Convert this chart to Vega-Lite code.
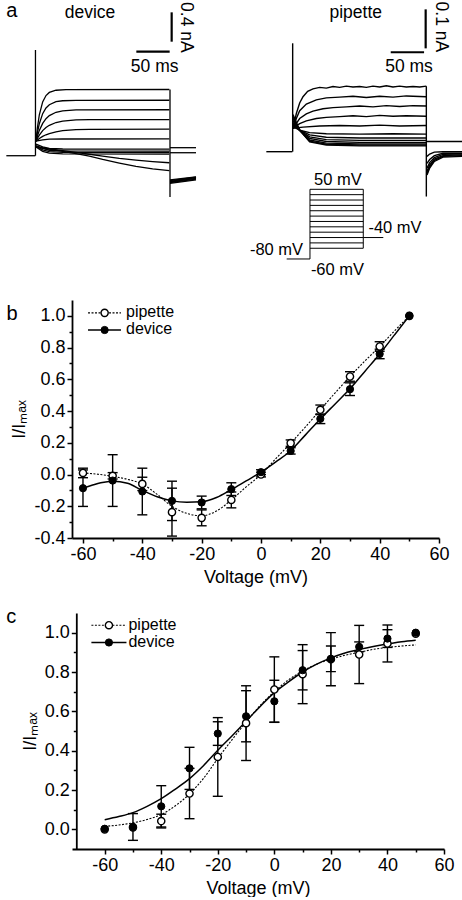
{
"$schema": "https://vega.github.io/schema/vega-lite/v6.json",
"background": "white",
"padding": {"left": 3, "top": 0, "right": 0, "bottom": 0},
"bounds": "flush",
"spacing": 75,
"config": {
  "view": {"stroke": null},
  "font": "Liberation Sans",
  "axis": {"domainColor": "black", "domainWidth": 1.8, "tickColor": "black", "tickWidth": 1.5, "labelFont": "Liberation Sans", "labelFontSize": 18, "labelColor": "black", "titleFont": "Liberation Sans", "titleFontSize": 18, "titleFontWeight": "normal", "titleColor": "black", "grid": false, "labelFlush": false, "labelOverlap": false, "labelBound": false},
  "text": {"font": "Liberation Sans", "color": "black"}
},
"datasets": {
  "devTr": [
    {"tr":"h","t":-44.5,"i":0},{"tr":"h","t":-1,"i":0},
    {"tr":"d50","t":0,"i":0.2},{"tr":"d50","t":2,"i":0.376},{"tr":"d50","t":5,"i":0.561},{"tr":"d50","t":10,"i":0.737},{"tr":"d50","t":15,"i":0.824},{"tr":"d50","t":20,"i":0.867},{"tr":"d50","t":30,"i":0.897},{"tr":"d50","t":45,"i":0.905},{"tr":"d50","t":200,"i":0.907},
    {"tr":"d40","t":0,"i":0.2},{"tr":"d40","t":2,"i":0.312},{"tr":"d40","t":5,"i":0.439},{"tr":"d40","t":10,"i":0.576},{"tr":"d40","t":15,"i":0.654},{"tr":"d40","t":20,"i":0.699},{"tr":"d40","t":30,"i":0.74},{"tr":"d40","t":40,"i":0.753},{"tr":"d40","t":60,"i":0.759},{"tr":"d40","t":200,"i":0.76},
    {"tr":"d30","t":0,"i":0.2},{"tr":"d30","t":2,"i":0.266},{"tr":"d30","t":5,"i":0.347},{"tr":"d30","t":10,"i":0.443},{"tr":"d30","t":15,"i":0.507},{"tr":"d30","t":20,"i":0.549},{"tr":"d30","t":30,"i":0.595},{"tr":"d30","t":40,"i":0.615},{"tr":"d30","t":60,"i":0.627},{"tr":"d30","t":200,"i":0.63},
    {"tr":"d20","t":0,"i":0.2},{"tr":"d20","t":2,"i":0.237},{"tr":"d20","t":5,"i":0.283},{"tr":"d20","t":10,"i":0.344},{"tr":"d20","t":15,"i":0.386},{"tr":"d20","t":20,"i":0.417},{"tr":"d20","t":30,"i":0.455},{"tr":"d20","t":40,"i":0.475},{"tr":"d20","t":60,"i":0.49},{"tr":"d20","t":80,"i":0.494},{"tr":"d20","t":200,"i":0.495},
    {"tr":"d10","t":0,"i":0.2},{"tr":"d10","t":5,"i":0.236},{"tr":"d10","t":10,"i":0.265},{"tr":"d10","t":15,"i":0.287},{"tr":"d10","t":20,"i":0.304},{"tr":"d10","t":30,"i":0.328},{"tr":"d10","t":40,"i":0.343},{"tr":"d10","t":60,"i":0.357},{"tr":"d10","t":80,"i":0.362},{"tr":"d10","t":200,"i":0.365},
    {"tr":"d0","t":0,"i":0.2},{"tr":"d0","t":10,"i":0.218},{"tr":"d0","t":20,"i":0.226},{"tr":"d0","t":40,"i":0.229},{"tr":"d0","t":200,"i":0.23},
    {"tr":"dm10","t":0,"i":0.16},{"tr":"dm10","t":10,"i":0.12},{"tr":"dm10","t":20,"i":0.1},{"tr":"dm10","t":40,"i":0.092},{"tr":"dm10","t":200,"i":0.09},
    {"tr":"dm20","t":0,"i":0.14},{"tr":"dm20","t":10,"i":0.1},{"tr":"dm20","t":20,"i":0.075},{"tr":"dm20","t":40,"i":0.066},{"tr":"dm20","t":200,"i":0.064},
    {"tr":"dm30","t":0,"i":0.13},{"tr":"dm30","t":10,"i":0.08},{"tr":"dm30","t":20,"i":0.055},{"tr":"dm30","t":40,"i":0.046},{"tr":"dm30","t":200,"i":0.044},
    {"tr":"dm40","t":0,"i":0.12},{"tr":"dm40","t":10,"i":0.06},{"tr":"dm40","t":20,"i":0.035},{"tr":"dm40","t":40,"i":0.025},{"tr":"dm40","t":200,"i":0.023},
    {"tr":"dm50","t":0,"i":0.12},{"tr":"dm50","t":20,"i":0.095},{"tr":"dm50","t":40,"i":0.07},{"tr":"dm50","t":60,"i":0.045},{"tr":"dm50","t":80,"i":0.02},{"tr":"dm50","t":100,"i":-0.005},{"tr":"dm50","t":125,"i":-0.036},{"tr":"dm50","t":150,"i":-0.06},{"tr":"dm50","t":175,"i":-0.08},{"tr":"dm50","t":200,"i":-0.096},
    {"tr":"dm60","t":0,"i":0.12},{"tr":"dm60","t":20,"i":0.09},{"tr":"dm60","t":40,"i":0.06},{"tr":"dm60","t":60,"i":0.03},{"tr":"dm60","t":80,"i":-0.005},{"tr":"dm60","t":100,"i":-0.05},{"tr":"dm60","t":125,"i":-0.1},{"tr":"dm60","t":150,"i":-0.145},{"tr":"dm60","t":175,"i":-0.18},{"tr":"dm60","t":200,"i":-0.205},
    {"tr":"T1","t":201,"i":0.11},{"tr":"T1","t":240,"i":0.11},
    {"tr":"T2","t":201,"i":0.041},{"tr":"T2","t":240,"i":0.041},
    {"tr":"T3","t":201,"i":-0.38},{"tr":"T3","t":240,"i":-0.33},
    {"tr":"T4","t":201,"i":-0.37},{"tr":"T4","t":240,"i":-0.32},
    {"tr":"T5","t":201,"i":-0.36},{"tr":"T5","t":240,"i":-0.31},
    {"tr":"T6","t":201,"i":-0.35},{"tr":"T6","t":240,"i":-0.3},
    {"tr":"T7","t":201,"i":-0.34},{"tr":"T7","t":240,"i":-0.295},
    {"tr":"T8","t":201,"i":-0.33},{"tr":"T8","t":240,"i":-0.29}
  ],
  "pipTr": [
    {"tr":"h","t":-40,"i":0},{"tr":"h","t":-1,"i":0},
    {"tr":"p1","t":0,"i":0.06},{"tr":"p1","t":5,"i":0.098},{"tr":"p1","t":10,"i":0.125},{"tr":"p1","t":15,"i":0.141},{"tr":"p1","t":22,"i":0.155},{"tr":"p1","t":30,"i":0.161},{"tr":"p1","t":40,"i":0.165},{"tr":"p1","t":50,"i":0.163},{"tr":"p1","t":60,"i":0.167},{"tr":"p1","t":70,"i":0.165},{"tr":"p1","t":80,"i":0.168},{"tr":"p1","t":90,"i":0.166},{"tr":"p1","t":100,"i":0.167},{"tr":"p1","t":110,"i":0.165},{"tr":"p1","t":120,"i":0.168},{"tr":"p1","t":130,"i":0.166},{"tr":"p1","t":140,"i":0.169},{"tr":"p1","t":150,"i":0.166},{"tr":"p1","t":160,"i":0.168},{"tr":"p1","t":170,"i":0.166},{"tr":"p1","t":180,"i":0.167},{"tr":"p1","t":190,"i":0.166},{"tr":"p1","t":200,"i":0.168},
    {"tr":"p2","t":0,"i":0.06},{"tr":"p2","t":5,"i":0.085},{"tr":"p2","t":10,"i":0.105},{"tr":"p2","t":20,"i":0.122},{"tr":"p2","t":35,"i":0.133},{"tr":"p2","t":50,"i":0.138},{"tr":"p2","t":70,"i":0.14},{"tr":"p2","t":90,"i":0.142},{"tr":"p2","t":110,"i":0.139},{"tr":"p2","t":130,"i":0.142},{"tr":"p2","t":150,"i":0.14},{"tr":"p2","t":170,"i":0.143},{"tr":"p2","t":200,"i":0.141},
    {"tr":"p3","t":0,"i":0.06},{"tr":"p3","t":10,"i":0.085},{"tr":"p3","t":20,"i":0.097},{"tr":"p3","t":30,"i":0.104},{"tr":"p3","t":45,"i":0.11},{"tr":"p3","t":60,"i":0.113},{"tr":"p3","t":80,"i":0.115},{"tr":"p3","t":100,"i":0.117},{"tr":"p3","t":120,"i":0.115},{"tr":"p3","t":140,"i":0.118},{"tr":"p3","t":160,"i":0.116},{"tr":"p3","t":180,"i":0.118},{"tr":"p3","t":200,"i":0.117},
    {"tr":"p4","t":0,"i":0.06},{"tr":"p4","t":10,"i":0.072},{"tr":"p4","t":20,"i":0.079},{"tr":"p4","t":35,"i":0.085},{"tr":"p4","t":50,"i":0.088},{"tr":"p4","t":70,"i":0.09},{"tr":"p4","t":90,"i":0.092},{"tr":"p4","t":110,"i":0.09},{"tr":"p4","t":130,"i":0.093},{"tr":"p4","t":150,"i":0.091},{"tr":"p4","t":170,"i":0.092},{"tr":"p4","t":200,"i":0.091},
    {"tr":"p5","t":0,"i":0.06},{"tr":"p5","t":15,"i":0.063},{"tr":"p5","t":40,"i":0.066},{"tr":"p5","t":70,"i":0.067},{"tr":"p5","t":100,"i":0.066},{"tr":"p5","t":130,"i":0.068},{"tr":"p5","t":160,"i":0.066},{"tr":"p5","t":200,"i":0.067},
    {"tr":"p6","t":0,"i":0.065},{"tr":"p6","t":10,"i":0.055},{"tr":"p6","t":25,"i":0.049},{"tr":"p6","t":50,"i":0.046},{"tr":"p6","t":100,"i":0.045},{"tr":"p6","t":150,"i":0.046},{"tr":"p6","t":200,"i":0.045},
    {"tr":"p7","t":0,"i":0.07},{"tr":"p7","t":10,"i":0.055},{"tr":"p7","t":25,"i":0.043},{"tr":"p7","t":50,"i":0.037},{"tr":"p7","t":100,"i":0.035},{"tr":"p7","t":200,"i":0.035},
    {"tr":"p8","t":0,"i":0.075},{"tr":"p8","t":10,"i":0.055},{"tr":"p8","t":25,"i":0.038},{"tr":"p8","t":50,"i":0.031},{"tr":"p8","t":100,"i":0.029},{"tr":"p8","t":200,"i":0.029},
    {"tr":"p9","t":0,"i":0.08},{"tr":"p9","t":10,"i":0.055},{"tr":"p9","t":25,"i":0.034},{"tr":"p9","t":50,"i":0.026},{"tr":"p9","t":100,"i":0.024},{"tr":"p9","t":200,"i":0.024},
    {"tr":"p10","t":0,"i":0.085},{"tr":"p10","t":10,"i":0.055},{"tr":"p10","t":25,"i":0.03},{"tr":"p10","t":50,"i":0.022},{"tr":"p10","t":100,"i":0.02},{"tr":"p10","t":200,"i":0.02},
    {"tr":"p11","t":0,"i":0.09},{"tr":"p11","t":10,"i":0.055},{"tr":"p11","t":25,"i":0.027},{"tr":"p11","t":50,"i":0.019},{"tr":"p11","t":100,"i":0.017},{"tr":"p11","t":200,"i":0.017},
    {"tr":"p12","t":0,"i":0.095},{"tr":"p12","t":10,"i":0.055},{"tr":"p12","t":25,"i":0.025},{"tr":"p12","t":50,"i":0.017},{"tr":"p12","t":100,"i":0.015},{"tr":"p12","t":200,"i":0.015},
    {"tr":"q1","t":201,"i":0.026},{"tr":"q1","t":255,"i":0.026},
    {"tr":"q2","t":201,"i":-0.012},{"tr":"q2","t":205,"i":-0.006},{"tr":"q2","t":212,"i":-0.001},{"tr":"q2","t":225,"i":0.0},{"tr":"q2","t":255,"i":0.0},
    {"tr":"q3","t":201,"i":-0.03},{"tr":"q3","t":205,"i":-0.02},{"tr":"q3","t":212,"i":-0.01},{"tr":"q3","t":225,"i":-0.004},{"tr":"q3","t":255,"i":-0.004},
    {"tr":"q4","t":201,"i":-0.042},{"tr":"q4","t":205,"i":-0.028},{"tr":"q4","t":212,"i":-0.015},{"tr":"q4","t":225,"i":-0.007},{"tr":"q4","t":255,"i":-0.006},
    {"tr":"q5","t":201,"i":-0.05},{"tr":"q5","t":205,"i":-0.034},{"tr":"q5","t":212,"i":-0.019},{"tr":"q5","t":225,"i":-0.01},{"tr":"q5","t":255,"i":-0.008},
    {"tr":"q6","t":201,"i":-0.056},{"tr":"q6","t":205,"i":-0.038},{"tr":"q6","t":212,"i":-0.022},{"tr":"q6","t":225,"i":-0.012},{"tr":"q6","t":255,"i":-0.01},
    {"tr":"q7","t":201,"i":-0.06},{"tr":"q7","t":205,"i":-0.042},{"tr":"q7","t":212,"i":-0.025},{"tr":"q7","t":225,"i":-0.014},{"tr":"q7","t":255,"i":-0.012}
  ],
  "bErr": [
    {"x":-60,"y":-0.02,"y2":0.04},{"x":-50,"y":-0.028,"y2":0.012},{"x":-40,"y":-0.101,"y2":-0.017},{"x":-30,"y":-0.388,"y2":-0.086},{"x":-20,"y":-0.323,"y2":-0.223},{"x":-10,"y":-0.21,"y2":-0.11},{"x":0,"y":-0.015,"y2":0.015},{"x":10,"y":0.178,"y2":0.218},{"x":20,"y":0.378,"y2":0.438},{"x":30,"y":0.588,"y2":0.648},{"x":40,"y":0.777,"y2":0.837},
    {"x":-60,"y":-0.201,"y2":0.029},{"x":-50,"y":-0.201,"y2":0.125},{"x":-40,"y":-0.254,"y2":0.04},{"x":-30,"y":-0.29,"y2":-0.042},{"x":-20,"y":-0.216,"y2":-0.136},{"x":-10,"y":-0.132,"y2":-0.052},{"x":0,"y":0.0,"y2":0.03},{"x":10,"y":0.129,"y2":0.169},{"x":20,"y":0.321,"y2":0.381},{"x":30,"y":0.498,"y2":0.578},{"x":40,"y":0.73,"y2":0.79}
  ],
  "bPip": [{"x":-60,"y":0.01},{"x":-50,"y":-0.008},{"x":-40,"y":-0.059},{"x":-30,"y":-0.237},{"x":-20,"y":-0.273},{"x":-10,"y":-0.16},{"x":0,"y":0.0},{"x":10,"y":0.198},{"x":20,"y":0.408},{"x":30,"y":0.618},{"x":40,"y":0.807},{"x":50,"y":1.0}],
  "bDev": [{"x":-60,"y":-0.086},{"x":-50,"y":-0.038},{"x":-40,"y":-0.107},{"x":-30,"y":-0.166},{"x":-20,"y":-0.176},{"x":-10,"y":-0.092},{"x":0,"y":0.015},{"x":10,"y":0.149},{"x":20,"y":0.351},{"x":30,"y":0.538},{"x":40,"y":0.76},{"x":50,"y":1.0}],
  "bCurveP": [{"x":-60,"y":0.01},{"x":-55,"y":0.002},{"x":-50,"y":-0.012},{"x":-45,"y":-0.03},{"x":-40,"y":-0.06},{"x":-35,"y":-0.125},{"x":-30,"y":-0.2},{"x":-25,"y":-0.245},{"x":-20,"y":-0.26},{"x":-15,"y":-0.23},{"x":-10,"y":-0.16},{"x":-5,"y":-0.078},{"x":0,"y":0.0},{"x":5,"y":0.1},{"x":10,"y":0.198},{"x":15,"y":0.3},{"x":20,"y":0.408},{"x":25,"y":0.515},{"x":30,"y":0.618},{"x":35,"y":0.715},{"x":40,"y":0.807},{"x":45,"y":0.905},{"x":50,"y":1.0}],
  "bCurveD": [{"x":-60,"y":-0.086},{"x":-57,"y":-0.068},{"x":-54,"y":-0.052},{"x":-50,"y":-0.042},{"x":-45,"y":-0.055},{"x":-40,"y":-0.1},{"x":-35,"y":-0.14},{"x":-30,"y":-0.166},{"x":-25,"y":-0.175},{"x":-20,"y":-0.172},{"x":-15,"y":-0.145},{"x":-10,"y":-0.095},{"x":-5,"y":-0.04},{"x":0,"y":0.015},{"x":5,"y":0.08},{"x":10,"y":0.15},{"x":15,"y":0.25},{"x":20,"y":0.35},{"x":25,"y":0.445},{"x":30,"y":0.54},{"x":35,"y":0.65},{"x":40,"y":0.76},{"x":45,"y":0.88},{"x":50,"y":1.0}],
  "cErr": [
    {"x":-40,"y":0.007,"y2":0.077},{"x":-30,"y":0.054,"y2":0.31},{"x":-20,"y":0.168,"y2":0.568},{"x":-10,"y":0.35,"y2":0.73},{"x":0,"y":0.545,"y2":0.877},{"x":10,"y":0.639,"y2":0.939},{"x":20,"y":0.73,"y2":1.0},{"x":30,"y":0.741,"y2":1.037},{"x":40,"y":0.851,"y2":1.039},
    {"x":-50,"y":-0.056,"y2":0.08},{"x":-40,"y":0.012,"y2":0.222},{"x":-30,"y":0.203,"y2":0.417},{"x":-20,"y":0.427,"y2":0.547},{"x":-10,"y":0.445,"y2":0.705},{"x":0,"y":0.544,"y2":0.758},{"x":10,"y":0.709,"y2":0.909},{"x":20,"y":0.802,"y2":0.932},{"x":30,"y":0.903,"y2":0.953},{"x":40,"y":0.925,"y2":1.015}
  ],
  "cPip": [{"x":-60,"y":0.0},{"x":-50,"y":0.01},{"x":-40,"y":0.042},{"x":-30,"y":0.182},{"x":-20,"y":0.368},{"x":-10,"y":0.54},{"x":0,"y":0.711},{"x":10,"y":0.789},{"x":20,"y":0.865},{"x":30,"y":0.889},{"x":40,"y":0.945},{"x":50,"y":0.995}],
  "cDev": [{"x":-60,"y":0.003},{"x":-50,"y":0.012},{"x":-40,"y":0.117},{"x":-30,"y":0.31},{"x":-20,"y":0.487},{"x":-10,"y":0.575},{"x":0,"y":0.651},{"x":10,"y":0.809},{"x":20,"y":0.867},{"x":30,"y":0.928},{"x":40,"y":0.97},{"x":50,"y":1.0}],
  "cCurveP": [{"x":-60,"y":0.015},{"x":-55,"y":0.022},{"x":-50,"y":0.033},{"x":-45,"y":0.05},{"x":-40,"y":0.075},{"x":-35,"y":0.12},{"x":-30,"y":0.18},{"x":-25,"y":0.26},{"x":-20,"y":0.36},{"x":-15,"y":0.455},{"x":-10,"y":0.545},{"x":-5,"y":0.63},{"x":0,"y":0.7},{"x":5,"y":0.76},{"x":10,"y":0.805},{"x":15,"y":0.84},{"x":20,"y":0.865},{"x":25,"y":0.885},{"x":30,"y":0.9},{"x":35,"y":0.915},{"x":40,"y":0.925},{"x":45,"y":0.932},{"x":50,"y":0.938}],
  "cCurveD": [{"x":-60,"y":0.049},{"x":-55,"y":0.065},{"x":-50,"y":0.085},{"x":-45,"y":0.117},{"x":-40,"y":0.156},{"x":-35,"y":0.205},{"x":-30,"y":0.258},{"x":-25,"y":0.325},{"x":-20,"y":0.402},{"x":-15,"y":0.475},{"x":-10,"y":0.55},{"x":-5,"y":0.625},{"x":0,"y":0.695},{"x":5,"y":0.75},{"x":10,"y":0.8},{"x":15,"y":0.84},{"x":20,"y":0.872},{"x":25,"y":0.897},{"x":30,"y":0.915},{"x":35,"y":0.93},{"x":40,"y":0.942},{"x":45,"y":0.954},{"x":50,"y":0.962}]
},
"vconcat": [
{
  "width": 367, "height": 225,
  "resolve": {"scale": {"x": "independent", "y": "independent"}},
  "layer": [
    {
      "encoding": {
        "x": {"field": "t", "type": "quantitative", "scale": {"domain": [54, 604.5], "nice": false, "zero": false}, "axis": null},
        "y": {"field": "i", "type": "quantitative", "scale": {"domain": [-0.949, 2.133], "nice": false, "zero": false}, "axis": null}
      },
      "layer": [
        {"data": {"name": "devTr"}, "mark": {"type": "line", "color": "black", "strokeWidth": 1.3}, "encoding": {"detail": {"field": "tr"}}},
        {"data": {"values": [{"t": -0.8, "i": 0, "i2": 1.448}, {"t": 201, "i": -0.566, "i2": 0.907}]}, "mark": {"type": "rule", "color": "black", "strokeWidth": 1.3}, "encoding": {"y2": {"field": "i2"}}},
        {"data": {"values": [{"t": 203.5, "i": 1.562, "i2": 1.964}]}, "mark": {"type": "rule", "color": "black", "strokeWidth": 2.2}, "encoding": {"y2": {"field": "i2"}}},
        {"data": {"values": [{"t": 150.5, "t2": 200.5, "i": 1.425}]}, "mark": {"type": "rule", "color": "black", "strokeWidth": 2.2}, "encoding": {"x2": {"field": "t2"}}},
        {"data": {"values": [{"t": -44.6, "i": 1.904, "txt": "a"}]}, "mark": {"type": "text", "fontSize": 20, "align": "left", "baseline": "alphabetic"}, "encoding": {"text": {"field": "txt"}}},
        {"data": {"values": [{"t": 81, "i": 1.882, "txt": "device"}, {"t": 178, "i": 1.151, "txt": "50 ms"}]}, "mark": {"type": "text", "fontSize": 17.5, "align": "center", "baseline": "alphabetic"}, "encoding": {"text": {"field": "txt"}}},
        {"data": {"values": [{"t": 225.5, "i": 1.758, "txt": "0.4 nA"}]}, "mark": {"type": "text", "fontSize": 17.5, "angle": 90, "align": "center", "baseline": "middle"}, "encoding": {"text": {"field": "txt"}}}
      ]
    },
    {
      "encoding": {
        "x": {"field": "t", "type": "quantitative", "scale": {"domain": [-331.5, 219], "nice": false, "zero": false}, "axis": null},
        "y": {"field": "i", "type": "quantitative", "scale": {"domain": [-0.188, 0.389], "nice": false, "zero": false}, "axis": null}
      },
      "layer": [
        {"data": {"name": "pipTr"}, "mark": {"type": "line", "color": "black", "strokeWidth": 1.4}, "encoding": {"detail": {"field": "tr"}}},
        {"data": {"values": [{"t": -0.5, "i": 0, "i2": 0.278}, {"t": 200, "i": -0.115, "i2": 0.168}]}, "mark": {"type": "rule", "color": "black", "strokeWidth": 1.4}, "encoding": {"y2": {"field": "i2"}}},
        {"data": {"values": [{"t": 199, "i": 0.265, "i2": 0.365}]}, "mark": {"type": "rule", "color": "black", "strokeWidth": 2.2}, "encoding": {"y2": {"field": "i2"}}},
        {"data": {"values": [{"t": 146.6, "t2": 196.6, "i": 0.255}]}, "mark": {"type": "rule", "color": "black", "strokeWidth": 2.2}, "encoding": {"x2": {"field": "t2"}}},
        {"data": {"values": [{"t": 94.1, "i": 0.342, "txt": "pipette"}, {"t": 174, "i": 0.205, "txt": "50 ms"}]}, "mark": {"type": "text", "fontSize": 17.5, "align": "center", "baseline": "alphabetic"}, "encoding": {"text": {"field": "txt"}}},
        {"data": {"values": [{"t": 222.5, "i": 0.32, "txt": "0.1 nA"}]}, "mark": {"type": "text", "fontSize": 17.5, "angle": 90, "align": "center", "baseline": "middle"}, "encoding": {"text": {"field": "txt"}}}
      ]
    },
    {
      "encoding": {
        "x": {"field": "t", "type": "quantitative", "scale": {"domain": [-446.5, 242.1], "nice": false, "zero": false}, "axis": null},
        "y": {"field": "i", "type": "quantitative", "scale": {"domain": [-16.6, 403.2], "nice": false, "zero": false}, "axis": null}
      },
      "layer": [
        {"data": {"values": [
          {"t":0,"t2":100,"i":-60},{"t":0,"t2":100,"i":-50},{"t":0,"t2":100,"i":-40},{"t":0,"t2":100,"i":-30},{"t":0,"t2":100,"i":-20},{"t":0,"t2":100,"i":-10},{"t":0,"t2":100,"i":0},{"t":0,"t2":100,"i":10},{"t":0,"t2":100,"i":20},{"t":0,"t2":100,"i":30},{"t":0,"t2":100,"i":40},{"t":0,"t2":100,"i":50},
          {"t":-43.7,"t2":0,"i":-80},{"t":100,"t2":137.6,"i":-40}]},
         "mark": {"type": "rule", "color": "black", "strokeWidth": 1}, "encoding": {"x2": {"field": "t2"}}},
        {"data": {"values": [{"t": 0, "i": -80, "i2": 50}, {"t": 100, "i": -60, "i2": 50}]}, "mark": {"type": "rule", "color": "black", "strokeWidth": 1}, "encoding": {"y2": {"field": "i2"}}},
        {"data": {"values": [{"t": 52.5, "i": 58.1, "txt": "50 mV"}, {"t": -62.8, "i": -72.5, "txt": "-80 mV"}, {"t": 51.6, "i": -109.9, "txt": "-60 mV"}, {"t": 159.5, "i": -31.5, "txt": "-40 mV"}]}, "mark": {"type": "text", "fontSize": 16.5, "align": "center", "baseline": "alphabetic"}, "encoding": {"text": {"field": "txt"}}}
      ]
    }
  ]
},
{
  "width": 367, "height": 238,
  "encoding": {
    "x": {"field": "x", "type": "quantitative", "scale": {"domain": [-63.7, 60], "nice": false, "zero": false},
      "axis": {"title": "Voltage (mV)", "values": [-60,-50,-40,-30,-20,-10,0,10,20,30,40,50,60], "labelExpr": "datum.value % 20 === 0 ? (datum.value < 0 ? '-' + abs(datum.value) : '' + datum.value) : ''", "tickSize": {"condition": {"test": "datum.value % 20 === 0", "value": 5}, "value": 3}, "labelPadding": 2, "titlePadding": 5}},
    "y": {"field": "y", "type": "quantitative", "scale": {"domain": [-0.4, 1.1], "nice": false, "zero": false},
      "axis": {"title": "I/Iₘₐₓ", "values": [-0.4,-0.3,-0.2,-0.1,0,0.1,0.2,0.3,0.4,0.5,0.6,0.7,0.8,0.9,1.0], "labelExpr": "abs(round(datum.value * 10)) % 2 === 0 ? (datum.value < -0.001 ? '-' : '') + format(abs(datum.value), '.1f') : ''", "tickSize": {"condition": {"test": "abs(round(datum.value * 10)) % 2 === 0", "value": 5}, "value": 3}, "labelPadding": 2, "titlePadding": 5}}
  },
  "layer": [
    {"data": {"name": "bErr"}, "mark": {"type": "rule", "color": "black", "strokeWidth": 1.4}, "encoding": {"y2": {"field": "y2"}}},
    {"data": {"name": "bErr"}, "mark": {"type": "tick", "orient": "horizontal", "size": 10, "thickness": 1.4, "color": "black", "opacity": 1}},
    {"data": {"name": "bErr"}, "mark": {"type": "tick", "orient": "horizontal", "size": 10, "thickness": 1.4, "color": "black", "opacity": 1}, "encoding": {"y": {"field": "y2", "type": "quantitative"}}},
    {"data": {"name": "bCurveP"}, "mark": {"type": "line", "color": "black", "strokeWidth": 1.1, "strokeDash": [2, 1.5], "interpolate": "monotone"}},
    {"data": {"name": "bCurveD"}, "mark": {"type": "line", "color": "black", "strokeWidth": 1.5, "interpolate": "monotone"}},
    {"data": {"name": "bPip"}, "mark": {"type": "point", "shape": "circle", "filled": true, "fill": "white", "stroke": "black", "strokeWidth": 1.4, "size": 52, "opacity": 1}},
    {"data": {"name": "bDev"}, "mark": {"type": "point", "shape": "circle", "filled": true, "fill": "black", "stroke": "black", "strokeWidth": 1, "size": 52, "opacity": 1}},
    {"data": {"values": [{"x": -58.3, "x2": -47.2, "y": 1.019}]}, "mark": {"type": "rule", "color": "black", "strokeWidth": 1.1, "strokeDash": [2, 1.5]}, "encoding": {"x2": {"field": "x2"}}},
    {"data": {"values": [{"x": -58.3, "x2": -47.2, "y": 0.911}]}, "mark": {"type": "rule", "color": "black", "strokeWidth": 1.5}, "encoding": {"x2": {"field": "x2"}}},
    {"data": {"values": [{"x": -52.7, "y": 1.019}]}, "mark": {"type": "point", "shape": "circle", "filled": true, "fill": "white", "stroke": "black", "strokeWidth": 1.4, "size": 52, "opacity": 1}},
    {"data": {"values": [{"x": -52.7, "y": 0.911}]}, "mark": {"type": "point", "shape": "circle", "filled": true, "fill": "black", "stroke": "black", "strokeWidth": 1, "size": 52, "opacity": 1}},
    {"data": {"values": [{"x": -45.5, "y": 0.9956, "txt": "pipette"}, {"x": -45.5, "y": 0.886, "txt": "device"}]}, "mark": {"type": "text", "fontSize": 16, "align": "left", "baseline": "alphabetic"}, "encoding": {"text": {"field": "txt"}}},
    {"data": {"values": [{"x": -85.8, "y": 0.975, "txt": "b"}]}, "mark": {"type": "text", "fontSize": 20, "align": "left", "baseline": "alphabetic"}, "encoding": {"text": {"field": "txt"}}}
  ]
},
{
  "width": 372, "height": 236,
  "encoding": {
    "x": {"field": "x", "type": "quantitative", "scale": {"domain": [-71.56, 60], "nice": false, "zero": false},
      "axis": {"title": "Voltage (mV)", "values": [-60,-50,-40,-30,-20,-10,0,10,20,30,40,50,60], "labelExpr": "datum.value % 20 === 0 ? (datum.value < 0 ? '-' + abs(datum.value) : '' + datum.value) : ''", "tickSize": {"condition": {"test": "datum.value % 20 === 0", "value": 5}, "value": 3}, "labelPadding": 2, "titlePadding": 5}},
    "y": {"field": "y", "type": "quantitative", "scale": {"domain": [-0.1, 1.1], "nice": false, "zero": false},
      "axis": {"title": "I/Iₘₐₓ", "offset": -4.3, "values": [0,0.1,0.2,0.3,0.4,0.5,0.6,0.7,0.8,0.9,1.0], "labelExpr": "abs(round(datum.value * 10)) % 2 === 0 ? format(abs(datum.value), '.1f') : ''", "tickSize": {"condition": {"test": "abs(round(datum.value * 10)) % 2 === 0", "value": 5}, "value": 3}, "labelPadding": 2, "titlePadding": 5}}
  },
  "layer": [
    {"data": {"name": "cErr"}, "mark": {"type": "rule", "color": "black", "strokeWidth": 1.4}, "encoding": {"y2": {"field": "y2"}}},
    {"data": {"name": "cErr"}, "mark": {"type": "tick", "orient": "horizontal", "size": 10, "thickness": 1.4, "color": "black", "opacity": 1}},
    {"data": {"name": "cErr"}, "mark": {"type": "tick", "orient": "horizontal", "size": 10, "thickness": 1.4, "color": "black", "opacity": 1}, "encoding": {"y": {"field": "y2", "type": "quantitative"}}},
    {"data": {"name": "cCurveP"}, "mark": {"type": "line", "color": "black", "strokeWidth": 1.1, "strokeDash": [2, 1.5], "interpolate": "monotone"}},
    {"data": {"name": "cCurveD"}, "mark": {"type": "line", "color": "black", "strokeWidth": 1.5, "interpolate": "monotone"}},
    {"data": {"name": "cPip"}, "mark": {"type": "point", "shape": "circle", "filled": true, "fill": "white", "stroke": "black", "strokeWidth": 1.4, "size": 52, "opacity": 1}},
    {"data": {"name": "cDev"}, "mark": {"type": "point", "shape": "circle", "filled": true, "fill": "black", "stroke": "black", "strokeWidth": 1, "size": 52, "opacity": 1}},
    {"data": {"values": [{"x": -64.7, "x2": -52.3, "y": 1.038}]}, "mark": {"type": "rule", "color": "black", "strokeWidth": 1.1, "strokeDash": [2, 1.5]}, "encoding": {"x2": {"field": "x2"}}},
    {"data": {"values": [{"x": -64.7, "x2": -52.3, "y": 0.95}]}, "mark": {"type": "rule", "color": "black", "strokeWidth": 1.5}, "encoding": {"x2": {"field": "x2"}}},
    {"data": {"values": [{"x": -58.5, "y": 1.038}]}, "mark": {"type": "point", "shape": "circle", "filled": true, "fill": "white", "stroke": "black", "strokeWidth": 1.4, "size": 52, "opacity": 1}},
    {"data": {"values": [{"x": -58.5, "y": 0.95}]}, "mark": {"type": "point", "shape": "circle", "filled": true, "fill": "black", "stroke": "black", "strokeWidth": 1, "size": 52, "opacity": 1}},
    {"data": {"values": [{"x": -51.6, "y": 1.015, "txt": "pipette"}, {"x": -51.6, "y": 0.928, "txt": "device"}]}, "mark": {"type": "text", "fontSize": 16, "align": "left", "baseline": "alphabetic"}, "encoding": {"text": {"field": "txt"}}},
    {"data": {"values": [{"x": -94.8, "y": 1.048, "txt": "c"}]}, "mark": {"type": "text", "fontSize": 20, "align": "left", "baseline": "alphabetic"}, "encoding": {"text": {"field": "txt"}}}
  ]
}
]
}
